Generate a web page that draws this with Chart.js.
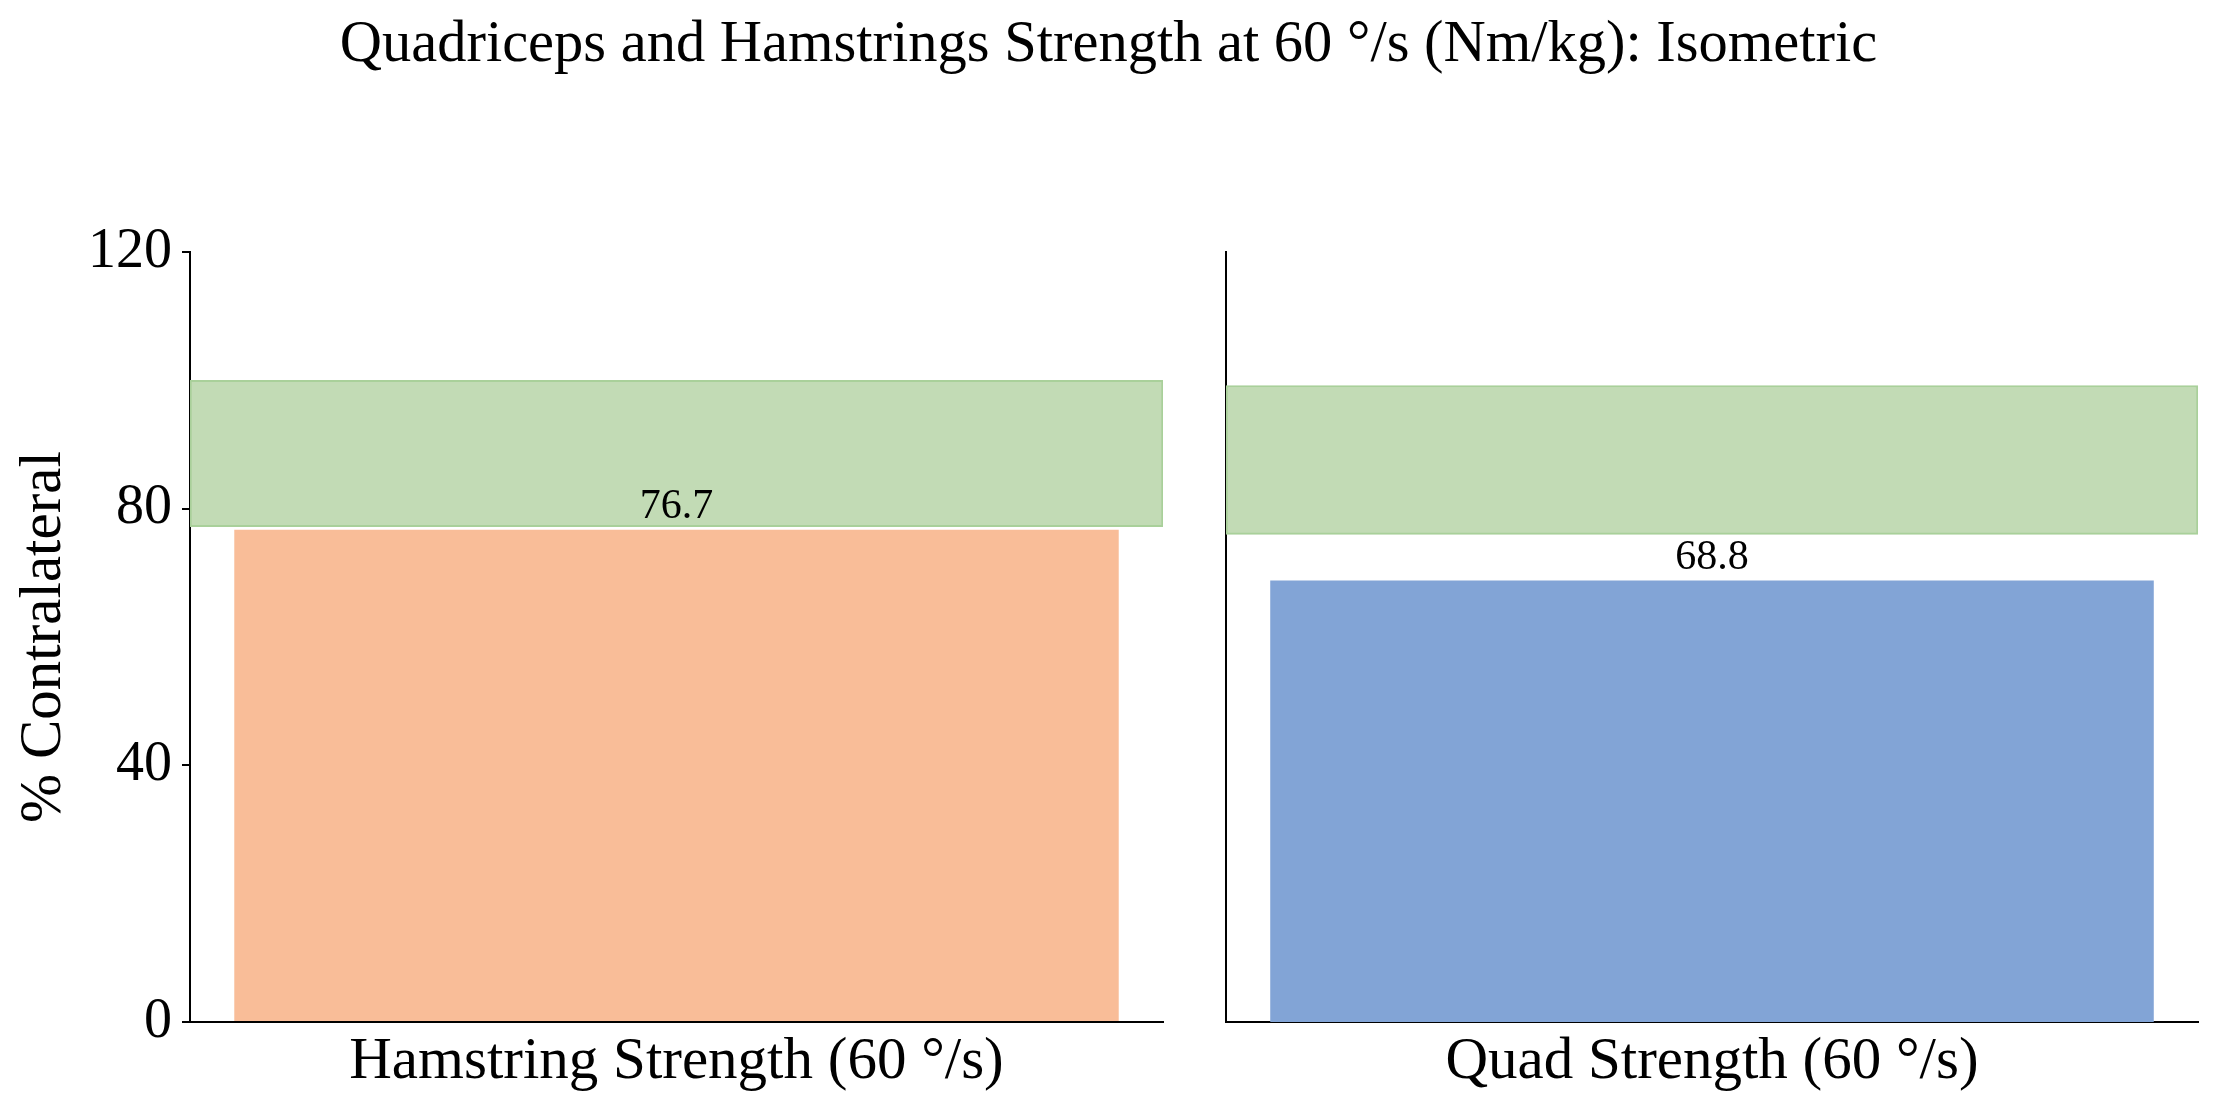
<!DOCTYPE html>
<html>
<head>
<meta charset="utf-8">
<script src="https://cdn.jsdelivr.net/npm/chart.js@4/dist/chart.umd.min.js"></script>
<style>
  html, body { margin: 0; padding: 0; background: #ffffff; width: 2217px; height: 1105px; overflow: hidden; }
  #title { position: absolute; left: 0; width: 2217px; top: 7px; text-align: center;
           font-family: 'Liberation Serif', 'Times New Roman', serif; font-size: 58.5px; line-height: 70px; color: #000; }
  .wrap { position: absolute; top: 0; }
</style>
</head>
<body>
<div id="title">Quadriceps and Hamstrings Strength at 60 °/s (Nm/kg): Isometric</div>
<div class="wrap" style="left:0px;"><canvas id="c1" width="1170" height="1105"></canvas></div>
<div class="wrap" style="left:1200px;"><canvas id="c2" width="1017" height="1105"></canvas></div>
<script>
// ---- data ----
const categories = ['Hamstring Strength (60 °/s)', 'Quad Strength (60 °/s)'];
const values = [76.7, 68.8];
const bandLow = [77.2, 76.0];
const bandHigh = [100.0, 99.2];
const yTicks = [0, 40, 80, 120];
const yLabel = '% Contralateral';

const barColors = ['#F9BD98', '#82A4D6'];
const bandFill = '#C2DBB5';
const bandEdge = '#A9D09A';
const FONT = "'Liberation Serif', 'Times New Roman', serif";

const valueLabelPlugin = {
  id: 'valueLabels',
  afterDatasetsDraw(chart) {
    const ctx = chart.ctx;
    const meta = chart.getDatasetMeta(1);
    ctx.save();
    ctx.font = '42px ' + FONT;
    ctx.fillStyle = '#000';
    ctx.textAlign = 'center';
    ctx.textBaseline = 'alphabetic';
    meta.data.forEach((el, i) => {
      const v = chart.data.datasets[1].data[i];
      ctx.fillText(v.toFixed(1), el.x, el.y - 12);
    });
    ctx.restore();
  }
};

function makeChart(id, idx, isLeft) {
  const yWidth = isLeft ? 190 : 26;
  const padRight = isLeft ? 7 : 19;
  return new Chart(document.getElementById(id), {
    type: 'bar',
    data: {
      labels: [categories[idx]],
      datasets: [
        {
          data: [[bandLow[idx], bandHigh[idx]]],
          backgroundColor: bandFill,
          borderColor: bandEdge,
          borderWidth: 2,
          borderSkipped: false,
          barPercentage: 1,
          categoryPercentage: 1,
          grouped: false
        },
        {
          data: [values[idx]],
          backgroundColor: barColors[idx],
          borderWidth: 0,
          barPercentage: 0.909,
          categoryPercentage: 1,
          grouped: false
        }
      ]
    },
    options: {
      responsive: false,
      animation: false,
      devicePixelRatio: 1,
      layout: { padding: { top: 252, right: padRight, left: 0, bottom: 0 } },
      plugins: { legend: { display: false }, tooltip: { enabled: false }, title: { display: false } },
      scales: {
        x: {
          offset: true,
          grid: { display: true, drawOnChartArea: false, drawTicks: false },
          border: { display: true, color: '#000', width: 2 },
          ticks: { color: '#000', font: { family: FONT, size: 59 }, padding: 5, maxRotation: 0 },
          afterFit(scale) { scale.height = 83; }
        },
        y: {
          min: 0, max: 120,
          afterBuildTicks(scale) { scale.ticks = yTicks.map(v => ({ value: v })); },
          grid: { display: isLeft, drawOnChartArea: false, drawTicks: isLeft, tickLength: 8, color: '#000', lineWidth: 2 },
          border: { display: true, color: '#000', width: 2 },
          ticks: { display: isLeft, color: '#000', font: { family: FONT, size: 56 }, padding: 10 },
          title: { display: isLeft, text: yLabel, color: '#000', font: { family: FONT, size: 59 }, padding: { top: 9, bottom: 0 } },
          afterFit(scale) { scale.width = yWidth; }
        }
      }
    },
    plugins: [valueLabelPlugin]
  });
}

makeChart('c1', 0, true);
makeChart('c2', 1, false);
</script>
</body>
</html>
